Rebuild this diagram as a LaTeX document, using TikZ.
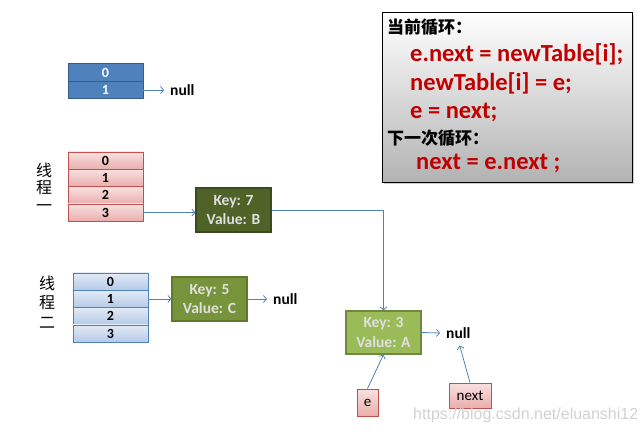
\documentclass[tikz,border=0pt]{standalone}
\usepackage{fontspec}
\setmainfont{Carlito}
\newfontfamily\cjk{Noto Sans CJK SC}
\newfontfamily\wmfont{Liberation Sans}
\usetikzlibrary{arrows.meta,shadows}
\definecolor{tblue}{HTML}{4F81BD}
\definecolor{tbluedark}{HTML}{385D8A}
\definecolor{pinktop}{HTML}{F9E1E0}
\definecolor{pinkbot}{HTML}{E9AEAD}
\definecolor{pinkborder}{HTML}{C0504D}
\definecolor{lbtop}{HTML}{E2EAF5}
\definecolor{lbbot}{HTML}{B5CAE8}
\definecolor{kseven}{HTML}{4F6228}
\definecolor{ksevenb}{HTML}{3A4A1C}
\definecolor{kfive}{HTML}{77933C}
\definecolor{kfiveb}{HTML}{5F7A2C}
\definecolor{kthree}{HTML}{9BBB59}
\definecolor{kthreeb}{HTML}{71893F}
\definecolor{codered}{HTML}{C00000}
\begin{document}
\begin{tikzpicture}[x=1pt,y=-1pt,
  cell/.style={draw, inner sep=0pt, outer sep=0pt, minimum width=75pt, minimum height=17.3pt,
    font=\bfseries\fontsize{14}{14}\selectfont, line width=0.7pt},
  bluecell/.style={cell, fill=tblue, draw=tbluedark, text=white},
  redcell/.style={cell, top color=pinktop, bottom color=pinkbot, draw=pinkborder},
  ltbluecell/.style={cell, top color=lbtop, bottom color=lbbot, draw=tblue},
  keybox/.style={draw, line width=1.2pt, minimum width=75pt, minimum height=44pt, inner sep=0pt,
    align=center, text=white!88!black, font=\bfseries\fontsize{15.5}{19.5}\selectfont},
  nulltext/.style={font=\bfseries\fontsize{15.5}{15.5}\selectfont, inner xsep=6pt, inner ysep=2pt, anchor=west},
  ptrbox/.style={draw=pinkborder, line width=0.8pt, top color=pinktop, bottom color=pinkbot,
    inner sep=0pt, font=\fontsize{15}{15}\selectfont},
  arr/.style={draw=tblue, line width=0.8pt, -{Straight Barb[length=3pt,width=7pt]}},
  codeline/.style={anchor=west, inner sep=0pt, text=codered, font=\bfseries\fontsize{24.5}{24.5}\selectfont},
  codehead/.style={anchor=west, inner sep=0pt, font=\cjk\bfseries\fontsize{17}{17}\selectfont},
  threadlbl/.style={align=center, inner sep=0pt, font=\cjk\fontsize{16}{18}\selectfont}
]
\useasboundingbox (0,0) rectangle (644,433);

% top blue table
\node[bluecell] (t0) at (105.5,72.5) {0};
\node[bluecell] (t1) at (105.5,90) {1};
\node[nulltext] (n0) at (164,90) {null};
\draw[arr] (t1.east) -- (n0.west);

% thread one
\node[threadlbl, font=\cjk\fontsize{16}{17.5}\selectfont] (th1) at (44,187) {线\\程\\一};
\node[redcell] (r0) at (105.5,160.6) {0};
\node[redcell] (r1) at (105.5,177.9) {1};
\node[redcell] (r2) at (105.5,195.2) {2};
\node[redcell] (r3) at (105.5,212.5) {3};

\node[keybox, fill=kseven, draw=ksevenb] (k7) at (233.5,210) {Key: 7\\Value: B};
\draw[arr] (r3.east) -- (r3.east -| k7.west);

% thread two
\node[threadlbl, font=\cjk\fontsize{16}{19.5}\selectfont] (th2) at (47,302) {线\\程\\二};
\node[ltbluecell] (b0) at (110.5,281.6) {0};
\node[ltbluecell] (b1) at (110.5,298.9) {1};
\node[ltbluecell] (b2) at (110.5,316.2) {2};
\node[ltbluecell] (b3) at (110.5,333.5) {3};

\node[keybox, fill=kfive, draw=kfiveb] (k5) at (209.5,299) {Key: 5\\Value: C};
\draw[arr] (b1.east) -- (b1.east -| k5.west);
\node[nulltext] (n5) at (267,299) {null};
\draw[arr] (k5.east) -- (n5.west);

% key 3
\node[keybox, fill=kthree, draw=kthreeb, minimum height=43pt] (k3) at (383.5,332.5) {Key: 3\\Value: A};
\draw[arr] (k7.east) -| (k3.north);
\node[nulltext] (n3) at (440,333) {null};
\draw[arr] (k3.east) -- (n3.west);

% pointers
\node[ptrbox, minimum width=21pt, minimum height=27pt] (e) at (367.5,402.5) {e};
\node[ptrbox, minimum width=42pt, minimum height=25pt] (nx) at (470,395.5) {next};
\draw[arr] (e.north) -- (k3.south);
\draw[arr, shorten >=5pt] (nx.north) -- (n3.south);

% code box
\node[draw=black, line width=1pt, top color=white, bottom color=black!30, drop shadow={shadow xshift=2pt, shadow yshift=-2pt, opacity=0.4},
  minimum width=250pt, minimum height=169pt, inner sep=0pt] (code) at (507,97.5) {};
\node[codehead] (c1) at (387,27) {当前循环：};
\node[codeline] (c2) at (410,54) {e.next = newTable[i];};
\node[codeline] (c3) at (410,83) {newTable[i] = e;};
\node[codeline] (c4) at (410,112) {e = next;};
\node[codehead] (c5) at (387,138) {下一次循环：};
\node[codeline] (c6) at (416,163) {next = e.next ;};

% watermark
\node[anchor=west, inner sep=0pt, text=black!18, font=\wmfont\fontsize{16}{16}\selectfont] (wm) at (413,415) {https://blog.csdn.net/eluanshi12};
\end{tikzpicture}
\end{document}
